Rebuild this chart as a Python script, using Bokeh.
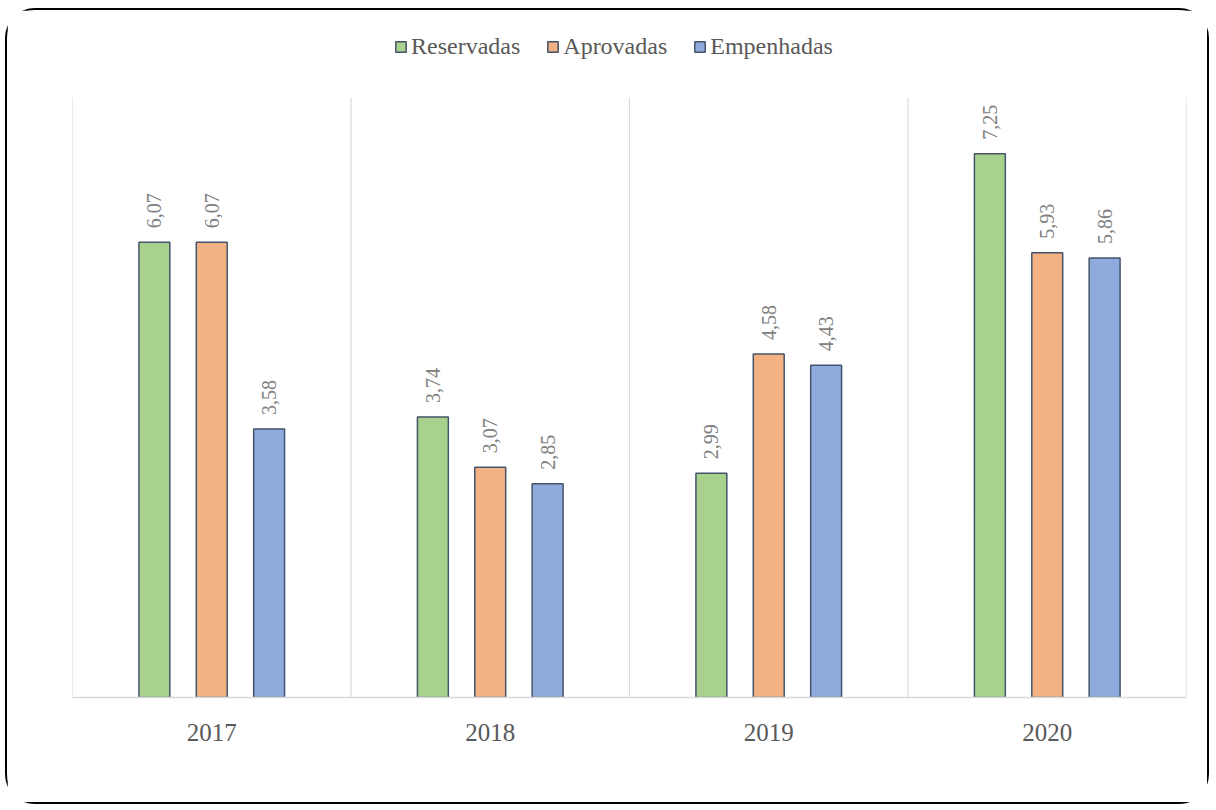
from bokeh.plotting import figure
from bokeh.models import ColumnDataSource, FixedTicker, Legend, LegendItem, Range1d
from bokeh.core.properties import value
from bokeh.embed import file_html
from bokeh.resources import INLINE

years = ["2017", "2018", "2019", "2020"]
reservadas = [6.07, 3.74, 2.99, 7.25]
aprovadas = [6.07, 3.07, 4.58, 5.93]
empenhadas = [3.58, 2.85, 4.43, 5.86]

series = [("Reservadas", reservadas, "#a9d18e"),
          ("Aprovadas", aprovadas, "#f4b183"),
          ("Empenhadas", empenhadas, "#8faadc")]
offsets = [-0.206, 0.0, 0.206]
FONT = "Liberation Serif"
Y_MAX = 8.0
Y_TOP = 9.027

p = figure(width=1204, height=796, output_backend="svg", toolbar_location=None,
           x_range=Range1d(0, len(years)), y_range=Range1d(0, Y_TOP),
           min_border_left=65, min_border_right=25, min_border_top=10, min_border_bottom=109)
p.styles = {"border": "2px solid #000000", "border-radius": "30px",
            "margin-left": "5px", "margin-top": "8px"}
p.outline_line_color = None
p.background_fill_color = "white"
p.border_fill_color = "white"
p.xgrid.visible = False
p.ygrid.visible = False
p.yaxis.visible = False

# category separators
bounds = list(range(len(years) + 1))
p.segment(x0=bounds, y0=[0] * len(bounds), x1=bounds, y1=[Y_MAX] * len(bounds),
          line_color="#d9d9d9", line_width=1.2)

items = []
for (name, vals, color), off in zip(series, offsets):
    xs = [i + 0.5 + off for i in range(len(years))]
    src = ColumnDataSource(dict(x=xs, top=vals, lab=[f"{v:.2f}".replace(".", ",") for v in vals]))
    r = p.vbar(x="x", top="top", width=0.111, bottom=0, source=src, fill_color=color,
               line_color="#44546a", line_width=1.5)
    items.append(LegendItem(label=name, renderers=[r]))
    p.text(x="x", y="top", text="lab", source=src, angle=1.5708, text_align="left",
           text_baseline="middle", x_offset=0, y_offset=-14, text_font=value(FONT),
           text_font_size="20px", text_color="#808080")

p.xaxis.ticker = FixedTicker(ticks=[i + 0.5 for i in range(len(years))])
p.xaxis.major_label_overrides = {i + 0.5: y for i, y in enumerate(years)}
p.xaxis.major_tick_line_color = None
p.xaxis.minor_tick_line_color = None
p.xaxis.axis_line_color = "#d9d9d9"
p.xaxis.axis_line_width = 1.5
p.xaxis.major_label_text_font = FONT
p.xaxis.major_label_text_font_size = "25px"
p.xaxis.major_label_text_color = "#595959"
p.xaxis.major_label_standoff = 20

legend = Legend(items=items, orientation="horizontal", location=(322, 637),
                label_text_font=FONT, label_text_font_size="24px", label_text_color="#595959",
                glyph_width=13, glyph_height=13, label_standoff=4, spacing=26,
                padding=0, margin=0, border_line_color=None, background_fill_alpha=0,
                label_height=24)
p.add_layout(legend, "center")

open("out.html", "w").write(file_html(p, INLINE))
